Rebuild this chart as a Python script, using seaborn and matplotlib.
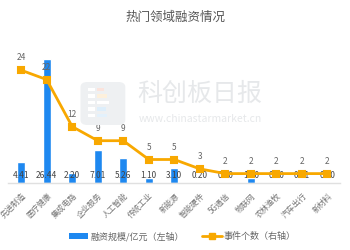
import numpy as np
import pandas as pd
import matplotlib
matplotlib.use("Agg")
import matplotlib.pyplot as plt
from matplotlib.patches import FancyBboxPatch, Rectangle
from matplotlib.lines import Line2D
from matplotlib.patches import Patch
import seaborn as sns

categories = ["先进制造", "医疗健康", "集成电路", "企业服务", "人工智能", "传统工业", "新能源",
              "智能硬件", "5G通信", "物联网", "农林渔牧", "汽车出行", "新材料"]
funding = [4.41, 26.44, 2.20, 7.01, 5.26, 1.10, 3.10, 0.20, 0.00, 1.00, 0.00, 0.11, 0.00]
events = [24, 22, 12, 9, 9, 5, 5, 3, 2, 2, 2, 2, 2]
title = "热门领域融资情况"
bar_label = "融资规模/亿元（左轴）"
line_label = "事件个数（右轴）"

sns.set_style("white")
plt.rcParams['font.family'] = ['Noto Sans CJK SC', 'DejaVu Sans']

BLUE = "#1E88F0"
ORANGE = "#F8A800"
GREY = "#666666"

df = pd.DataFrame({"cat": categories, "funding": funding, "events": events})

fig = plt.figure(figsize=(3.5, 2.5), dpi=100)
ax = fig.add_axes([0.024, 0.268, 0.948, 0.564])

# watermark
fig.patches.append(FancyBboxPatch((0.230, 0.500), 0.128, 0.172, boxstyle="round,pad=0,rounding_size=0.02",
                                  transform=fig.transFigure, facecolor="#EEF0F2", edgecolor="none", zorder=0))
for i, (w, c) in enumerate([(0.03, "#FBE3DC"), (0.045, "#FDF0DC"), (0.055, "#FFFFFF"), (0.04, "#DDEEFB"), (0.045, "#E3F1FC")]):
    fig.patches.append(Rectangle((0.252, 0.635 - i * 0.026), 0.02, 0.014, transform=fig.transFigure,
                                 facecolor="#FFFFFF", edgecolor="none", zorder=0))
    fig.patches.append(Rectangle((0.278, 0.635 - i * 0.026), w * 0.6, 0.014, transform=fig.transFigure,
                                 facecolor=c, edgecolor="none", zorder=0))
fig.text(0.393, 0.625, "科创板日报", fontsize=18, color="#E6E8EA", va="center", ha="left", zorder=0)
fig.text(0.395, 0.526, "www.chinastarmarket.cn", fontsize=7.5, color="#E6E8EA", va="center", ha="left", zorder=0)

sns.barplot(data=df, x="cat", y="funding", ax=ax, color=BLUE, width=0.32, saturation=1, zorder=2)
ax.set_ylim(0, 30)
ax.set_xlim(-0.5, len(categories) - 0.5)
ax.patch.set_alpha(0)

ax2 = ax.twinx()
sns.pointplot(data=df, x="cat", y="events", ax=ax2, color=ORANGE, markers="s", linestyles="-",
              markersize=4, linewidth=2)
ax2.set_ylim(0, 30)
ax2.set_xlim(-0.5, len(categories) - 0.5)

for i, v in enumerate(funding):
    ax.text(i, 1.6, f"{v:.2f}", ha="center", va="center", fontsize=6, color="#444444", zorder=5)
for i, v in enumerate(events):
    ax2.text(i, v + 1.7, f"{v}", ha="center", va="bottom", fontsize=6, color=GREY)

for a in (ax, ax2):
    for s in a.spines.values():
        s.set_visible(False)
    a.set_yticks([])
    a.set_ylabel("")
    a.set_xlabel("")
ax.spines["bottom"].set_visible(True)
ax.spines["bottom"].set_color("#E0E0E0")
ax.spines["bottom"].set_linewidth(1)
ax.tick_params(axis="x", length=0, pad=6)
ax.set_xticks(range(len(categories)))
ax.set_xticklabels(categories, rotation=45, ha="right", rotation_mode="anchor", fontsize=5.7, color="#777777")
ax2.tick_params(axis="x", length=0, labelbottom=False)

fig.text(0.5, 0.93, title, ha="center", va="center", fontsize=9, color="#555555")

handles = [Patch(facecolor=BLUE, edgecolor="none"),
           Line2D([0], [0], color=ORANGE, lw=2, marker="s", markersize=4)]
fig.legend(handles, [bar_label, line_label], loc="center", bbox_to_anchor=(0.52, 0.055), ncol=2,
           frameon=False, fontsize=6.5, handlelength=2.2, handleheight=0.6, columnspacing=2.0,
           handletextpad=0.2, labelcolor="#666666")

fig.savefig("out.png", dpi=100)
